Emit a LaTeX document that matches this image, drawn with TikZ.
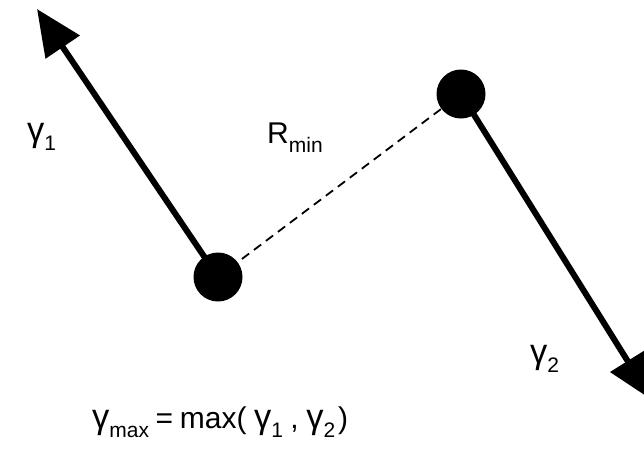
\documentclass[tikz,border=0pt]{standalone}
\usepackage{fontspec}
\setmainfont{Liberation Sans}
\usetikzlibrary{arrows.meta}
\newcommand\sbs[1]{\raisebox{-0.32em}{\fontsize{21}{21}\selectfont #1}}
\newcommand\gam{\scalebox{1.15}{γ}}
\tikzset{
  dot/.style={circle, fill=black, minimum size=49pt, inner sep=0pt},
  vec/.style={line width=6pt, -{Triangle[length=46pt,width=40pt]}},
  link/.style={line width=1.8pt, dash pattern=on 9pt off 6pt},
  lbl/.style={anchor=base west, inner sep=0pt, font=\fontsize{30}{35}\selectfont}
}
\begin{document}
\begin{tikzpicture}[x=1pt,y=-1pt]
\clip (0,0) rectangle (644,448);
\fill[white] (0,0) rectangle (644,448);
\coordinate (c1) at (218,277);
\coordinate (c2) at (461,94);
\coordinate (t1) at (37,9);
\coordinate (t2) at (652,400);
\draw[link] (c1) -- (c2);
\draw[vec] (c1) -- (t1);
\draw[vec] (c2) -- (t2);
\node[dot] (d1) at (c1) {};
\node[dot] (d2) at (c2) {};
\node[lbl] (g1) at (27,141) {\gam\sbs{1}};
\node[lbl] (rm) at (267,143) {R\sbs{min}};
\node[lbl] (g2) at (530,363) {\gam\sbs{2}};
\node[lbl] (f) at (92,428) {\gam\sbs{max}\hspace{0.22em}=\hspace{0.22em}max(\hspace{0.25em}\gam\sbs{1}\hspace{0.25em},\hspace{0.25em}\gam\sbs{2}\hspace{0.1em})};
\end{tikzpicture}
\end{document}
